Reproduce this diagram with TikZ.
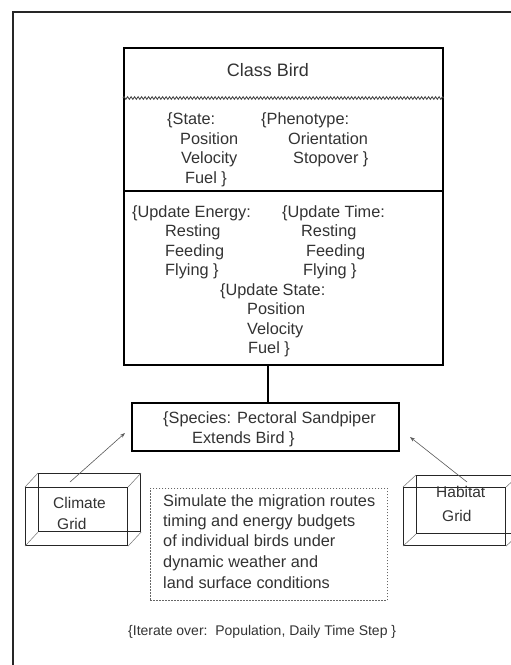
\documentclass[tikz,border=0pt]{standalone}
\usepackage{fontspec}
\setmainfont{Liberation Sans}
\usetikzlibrary{decorations.pathmorphing,arrows.meta}
\begin{document}
\begin{tikzpicture}[x=1pt,y=-1pt,
  txt/.style={anchor=base west,inner sep=0pt,font=\fontsize{16.3}{18}\selectfont,text=black!80},
  boxline/.style={draw=black,line width=1.8pt},
  face/.style={draw=black!85,line width=1.1pt},
  edge3d/.style={draw=black!55,line width=0.5pt},
  arr/.style={draw=black!65,line width=0.6pt,-{Stealth[length=5pt,width=3.5pt]}},
  dotbox/.style={draw=black!60,line width=0.6pt,dash pattern=on 1.5pt off 1.5pt},
  wavy/.style={draw=black!75,line width=0.8pt,decorate,decoration={snake,amplitude=1.3pt,segment length=3.5pt}}]
\useasboundingbox (0,0) rectangle (511,665);
\clip (0,0) rectangle (511,665);
\fill[white] (0,0) rectangle (511,665);
% outer frame (clipped on right and bottom)
\draw[line width=1.6pt,black!85] (13,700) -- (13,12) -- (560,12);

% Class Bird box
\node[boxline,minimum width=319pt,minimum height=317pt,anchor=north west,inner sep=0pt] (bird) at (123,47) {};
\node[txt,anchor=base,font=\fontsize{18}{20}\selectfont] (title) at (268,76.5) {Class Bird};
\draw[wavy] (bird.west |- 0,98) -- (bird.east |- 0,98);
\draw[black,line width=1.2pt] (bird.west |- 0,191) -- (bird.east |- 0,191);

\node[txt] (s1) at (167,124) {\{State:};
\node[txt] (s2) at (180,144) {Position};
\node[txt] (s3) at (181,163) {Velocity};
\node[txt] (s4) at (185,183) {Fuel \}};
\node[txt] (p1) at (261,124) {\{Phenotype:};
\node[txt] (p2) at (288,144) {Orientation};
\node[txt] (p3) at (293,163) {Stopover \}};

\node[txt] (e1) at (132,217) {\{Update Energy:};
\node[txt] (e2) at (165,236) {Resting};
\node[txt] (e3) at (165,256) {Feeding};
\node[txt] (e4) at (165,275) {Flying \}};
\node[txt] (t1) at (282,217) {\{Update Time:};
\node[txt] (t2) at (301,236) {Resting};
\node[txt] (t3) at (306,256) {Feeding};
\node[txt] (t4) at (303,275) {Flying \}};
\node[txt] (u1) at (220,295) {\{Update State:};
\node[txt] (u2) at (247,314) {Position};
\node[txt] (u3) at (247,334) {Velocity};
\node[txt] (u4) at (248,353) {Fuel \}};

% Species box
\node[boxline,line width=1.5pt,minimum width=267pt,minimum height=48pt,anchor=north west,inner sep=0pt] (species) at (131,402) {};
\node[txt] (sp1) at (163,423) {\{Species: Pectoral Sandpiper};
\node[txt] (sp2) at (192,443) {Extends Bird \}};
\coordinate (cx) at (268,0);
\draw[black,line width=1.3pt] (species.north -| cx) -- (bird.south -| cx);

% Climate grid (wireframe box)
\node[face,minimum width=102pt,minimum height=58pt,anchor=north west,inner sep=0pt] (climF) at (25,487) {};
\node[face,minimum width=102pt,minimum height=58pt,anchor=north west,inner sep=0pt] (climB) at (38,473) {};
\draw[edge3d] (climF.north west) -- (climB.north west);
\draw[edge3d] (climF.north east) -- (climB.north east);
\draw[edge3d] (climF.south west) -- (climB.south west);
\draw[edge3d] (climF.south east) -- (climB.south east);
\node[txt,font=\fontsize{15.5}{17}\selectfont] (cl1) at (53,508) {Climate};
\node[txt,font=\fontsize{15.5}{17}\selectfont] (cl2) at (57,529) {Grid};

% Habitat grid (wireframe box)
\node[face,minimum width=102pt,minimum height=58pt,anchor=north west,inner sep=0pt] (habF) at (403,487) {};
\node[face,minimum width=102pt,minimum height=58pt,anchor=north west,inner sep=0pt] (habB) at (416,475) {};
\draw[edge3d] (habF.north west) -- (habB.north west);
\draw[edge3d] (habF.north east) -- (habB.north east);
\draw[edge3d] (habF.south west) -- (habB.south west);
\draw[edge3d] (habF.south east) -- (habB.south east);
\node[txt,font=\fontsize{15.5}{17}\selectfont] (hb1) at (436,497) {Habitat};
\node[txt,font=\fontsize{15.5}{17}\selectfont] (hb2) at (442,521) {Grid};

% arrows
\coordinate (cstart) at (70,482);
\coordinate (ctip) at (125,433);
\coordinate (hstart) at (467,482);
\coordinate (htip) at (410,437);
\draw[arr] (cstart) -- (ctip);
\draw[arr] (hstart) -- (htip);

% dotted description box
\node[dotbox,minimum width=237pt,minimum height=112pt,anchor=north west,inner sep=0pt] (desc) at (150,488) {};
\node[txt] (d1) at (163,506) {Simulate the migration routes};
\node[txt] (d2) at (163,526) {timing and energy budgets};
\node[txt] (d3) at (163,546) {of individual birds under};
\node[txt] (d4) at (163,567) {dynamic weather and};
\node[txt] (d5) at (163,588) {land surface conditions};

\node[txt,font=\fontsize{14}{16}\selectfont] (iter) at (128,635) {\{Iterate over:\ \ Population, Daily Time Step \}};
\end{tikzpicture}
\end{document}
